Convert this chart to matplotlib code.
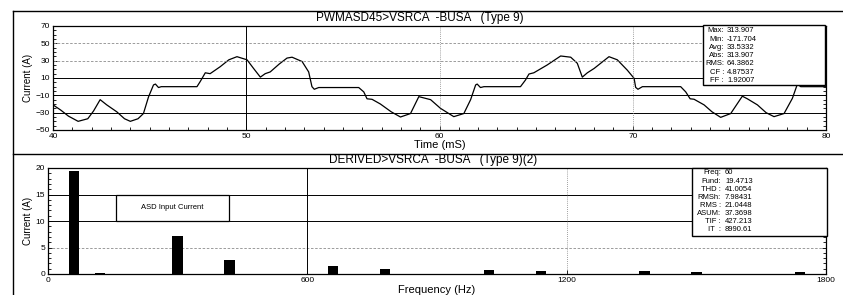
import matplotlib
matplotlib.use("Agg")
import matplotlib.pyplot as plt
from matplotlib.lines import Line2D
from matplotlib.patches import Rectangle
from matplotlib.ticker import MultipleLocator

plt.rcParams['font.family'] = ['Liberation Sans', 'DejaVu Sans']

# Forma de onda da corrente de entrada (tempo em ms, corrente em A)
t_ms = [40.0, 40.4, 40.8, 41.3, 41.8, 42.1, 42.44, 42.78, 43.3, 43.7, 44.0, 44.4,
        44.68, 44.94, 45.2, 45.3, 45.46, 45.6, 47.45, 47.62, 47.88, 48.13, 48.65,
        49.1, 49.52, 50.04, 50.38, 50.73, 50.98, 51.24, 51.7, 52.11, 52.37, 52.89,
        53.23, 53.4, 53.52, 53.75, 55.82, 56.08, 56.25, 56.51, 56.94, 57.5, 57.98,
        58.5, 58.93, 59.54, 60.05, 60.74, 61.26, 61.61, 61.87, 61.95, 62.12, 62.3,
        64.19, 64.45, 64.63, 64.88, 65.57, 66.27, 66.79, 67.13, 67.39, 67.65, 68.0,
        68.77, 69.2, 69.72, 70.07, 70.15, 70.27, 70.5, 72.48, 72.74, 72.97, 73.17,
        73.69, 74.1, 74.55, 75.07, 75.67, 75.93, 76.45, 76.9, 77.31, 77.83, 78.26,
        78.52, 78.69, 80.0]
current_a = [-21, -27, -34, -40, -37, -28, -15, -21, -29, -37, -40, -37,
             -31, -12, 2, 3, -1, 0, 0, 6, 16, 15, 23,
             31, 34.6, 31, 21, 11, 15, 17, 26, 33, 34, 29,
             17, 0, -3, -1, -1, -6, -14, -14.6, -20, -29, -35,
             -31, -11.5, -15, -25, -34.6, -31, -15, 2, 3, -1, 0,
             0, 7.7, 14.6, 16, 25, 35.4, 34, 27, 11, 16, 21,
             34.6, 31, 19, 9.6, -0.8, -3, 0, 0, -6, -14, -14.5,
             -21, -29, -35.4, -31, -11, -14, -21, -30, -34.6, -31, -13.5,
             3, 0, 0]

# Espectro harmônico
harm_hz = [60, 120, 300, 420, 660, 780, 1020, 1140, 1380, 1500, 1740]
harm_a = [19.47, 0.25, 7.2, 2.7, 1.6, 0.9, 0.7, 0.5, 0.5, 0.4, 0.35]

top_labels = ["Max:", "Min:", "Avg:", "Abs:", "RMS:", "CF :", "FF :"]
top_values = ["313.907", "-171.704", "33.5332", "313.907", "64.3862", "4.87537", "1.92007"]
bot_labels = ["Freq:", "Fund:", "THD :", "RMSh:", "RMS :", "ASUM:", "TIF :", "IT  :"]
bot_values = ["60", "19.4713", "41.0054", "7.98431", "21.0448", "37.3698", "427.213", "8990.61"]

W, H = 843, 295
fig = plt.figure(figsize=(W / 100, H / 100), dpi=100)


def fx(x):
    return x / W


def fy(y):
    return 1 - y / H


ax1 = fig.add_axes([fx(53), fy(130), fx(826 - 53), (130 - 26) / H])
ax2 = fig.add_axes([fx(48), fy(274), fx(826 - 48), (274 - 168) / H])

# --- painel superior
ax1.plot(t_ms, current_a, color='black', lw=0.9)
ax1.set_xlim(40, 80)
ax1.set_ylim(-50, 70)
ax1.set_xticks([40, 50, 60, 70, 80])
ax1.set_yticks([70, 50, 30, 10, -10, -30, -50])
ax1.xaxis.set_minor_locator(MultipleLocator(1))
ax1.yaxis.set_minor_locator(MultipleLocator(5))
for y in [50, 30]:
    ax1.axhline(y, color='0.55', lw=0.6, ls=(0, (3, 2)))
for y in [10, -10, -30]:
    ax1.axhline(y, color='black', lw=0.7)
ax1.axvline(50, color='black', lw=0.7)
for x in [60, 70]:
    ax1.axvline(x, color='0.5', lw=0.6, ls=(0, (1, 1.5)))
ax1.set_ylabel("Current (A)", fontsize=7, labelpad=2)
ax1.set_xlabel("Time (mS)", fontsize=8, labelpad=0)

# --- painel inferior
ax2.bar(harm_hz, harm_a, width=24, color='black')
ax2.set_xlim(0, 1800)
ax2.set_ylim(0, 20)
ax2.set_xticks([0, 600, 1200, 1800])
ax2.set_yticks([20, 15, 10, 5, 0])
ax2.yaxis.set_minor_locator(MultipleLocator(1))
for y in [15, 10]:
    ax2.axhline(y, color='black', lw=0.7, zorder=0)
ax2.axhline(5, color='0.55', lw=0.6, ls=(0, (3, 2)), zorder=0)
ax2.axvline(600, color='black', lw=0.7, zorder=0)
ax2.axvline(1200, color='0.5', lw=0.6, ls=(0, (1, 1.5)), zorder=0)
ax2.set_ylabel("Current (A)", fontsize=7, labelpad=2)
ax2.set_xlabel("Frequency (Hz)", fontsize=8, labelpad=1)
ax2.add_patch(Rectangle((157, 10), 261, 5, fc='white', ec='black', lw=0.9, zorder=3))
ax2.text(287, 12.5, "ASD Input Current", fontsize=5.5, ha='center', va='center', zorder=4)

for ax in (ax1, ax2):
    for s in ax.spines.values():
        s.set_linewidth(0.9)
    ax.tick_params(which='both', direction='in', labelsize=6, pad=2,
                   right=True, width=0.6)
    ax.tick_params(which='major', length=3)
    ax.tick_params(which='minor', length=2)

# títulos
fig.text(fx(420), fy(18), "PWMASD45>VSRCA  -BUSA   (Type 9)", fontsize=8.5,
         ha='center', va='center')
fig.text(fx(433), fy(160), "DERIVED>VSRCA  -BUSA   (Type 9)(2)", fontsize=8.5,
         ha='center', va='center')

# moldura
fig.add_artist(Line2D([fx(13), 1], [fy(11), fy(11)], color='black', lw=1.0))
fig.add_artist(Line2D([fx(13), fx(13)], [fy(11), fy(295)], color='black', lw=1.0))
fig.add_artist(Line2D([fx(13), 1], [fy(154), fy(154)], color='black', lw=1.0))

# caixas de estatística
fig.add_artist(Rectangle((fx(703), fy(85)), fx(825 - 703), (85 - 25) / H,
                         transform=fig.transFigure, fc='white', ec='black', lw=1.0))
for i, (lab, val) in enumerate(zip(top_labels, top_values)):
    y = 31 + i * 8.2
    fig.text(fx(724), fy(y), lab, fontsize=5.5, ha='right', va='center')
    fig.text(fx(727), fy(y), val, fontsize=5.5, ha='left', va='center')

fig.add_artist(Rectangle((fx(692), fy(236)), fx(827 - 692), (236 - 168) / H,
                         transform=fig.transFigure, fc='white', ec='black', lw=1.0))
for i, (lab, val) in enumerate(zip(bot_labels, bot_values)):
    y = 173 + i * 8.1
    fig.text(fx(721), fy(y), lab, fontsize=5.5, ha='right', va='center')
    fig.text(fx(725), fy(y), val, fontsize=5.5, ha='left', va='center')

fig.savefig("out.png", dpi=100)
